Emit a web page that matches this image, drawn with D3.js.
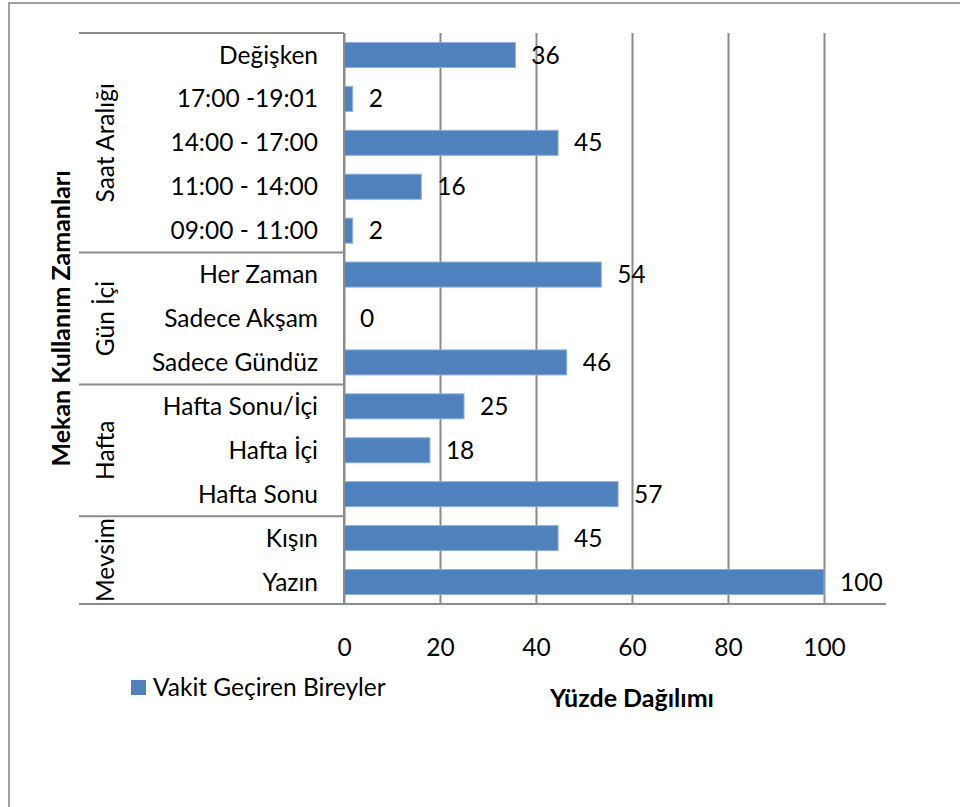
<!DOCTYPE html>
<html>
<head>
<meta charset="utf-8">
<script src="https://cdn.jsdelivr.net/npm/d3@7"></script>
<style>
  body { margin: 0; background: #fff; }
  svg { display: block; font-family: Lato, 'Open Sans', sans-serif; }
</style>
</head>
<body>
<svg id="chart" width="960" height="807"></svg>
<script>
// rows, top to bottom
const CATEGORIES = ['Değişken', '17:00 -19:01', '14:00 - 17:00', '11:00 - 14:00', '09:00 - 11:00',
  'Her Zaman', 'Sadece Akşam', 'Sadece Gündüz',
  'Hafta Sonu/İçi', 'Hafta İçi', 'Hafta Sonu',
  'Kışın', 'Yazın'];
const VALUES = [35.7, 1.8, 44.6, 16.1, 1.8, 53.6, 0, 46.4, 25.0, 17.9, 57.1, 44.6, 100];
const GROUPS = ['Saat Aralığı', 'Gün İçi', 'Hafta', 'Mevsim'];
const GROUP_SIZES = [5, 3, 3, 2];
const X_TICKS = [0, 20, 40, 60, 80, 100];

const SERIES_NAME = 'Vakit Geçiren Bireyler';
const BLUE = '#4f81bd';
const LINE = '#8c8c8c';
const FONT_SIZE = 24.5;
const TITLE_SIZE = 25;

const PLOT = { left: 344, right: 824, top: 33, bottom: 604, labelLeft: 79, axisEnd: 886 };

const svg = d3.select('#chart');

// outer frame
svg.append('rect')
  .attr('x', 9).attr('y', 3)
  .attr('width', 1000).attr('height', 900)
  .attr('fill', 'none')
  .attr('stroke', '#a0a0a0')
  .attr('stroke-width', 2);

const x = d3.scaleLinear()
  .domain([0, 100])
  .range([PLOT.left, PLOT.right]);

const y = d3.scaleBand()
  .domain(CATEGORIES)
  .range([PLOT.top, PLOT.bottom])
  .paddingInner(0.43)
  .paddingOuter(0.215);

// gridlines + tick labels
const xAxis = svg.append('g')
  .attr('transform', `translate(0,${PLOT.bottom})`)
  .call(d3.axisBottom(x)
    .tickValues(X_TICKS)
    .tickSize(-(PLOT.bottom - PLOT.top))
    .tickPadding(35));
xAxis.select('.domain').remove();
xAxis.selectAll('.tick line')
  .attr('stroke', LINE)
  .attr('stroke-width', 2);
xAxis.selectAll('.tick text')
  .attr('font-family', 'Lato, sans-serif')
  .attr('font-size', FONT_SIZE)
  .attr('fill', '#000');

// bars
svg.selectAll('.bar')
  .data(VALUES)
.enter()
  .append('rect')
  .attr('class', 'bar')
  .attr('x', x(0))
  .attr('y', (d, i) => y(CATEGORIES[i]))
  .attr('width', d => x(d) - x(0))
  .attr('height', y.bandwidth())
  .attr('fill', BLUE)
  .attr('stroke', '#8eb0d8')
  .attr('stroke-width', d => (d ? 1 : 0));

// value labels
svg.selectAll('.value')
  .data(VALUES)
.enter()
  .append('text')
  .attr('class', 'value')
  .attr('x', d => x(d) + 16)
  .attr('y', (d, i) => y(CATEGORIES[i]) + y.bandwidth() / 2)
  .attr('dy', '0.35em')
  .attr('font-size', FONT_SIZE)
  .text(d => d3.format('.0f')(d));

// category labels
svg.selectAll('.cat')
  .data(CATEGORIES)
.enter()
  .append('text')
  .attr('class', 'cat')
  .attr('x', 318)
  .attr('y', d => y(d) + y.bandwidth() / 2)
  .attr('dy', '0.35em')
  .attr('text-anchor', 'end')
  .attr('font-size', FONT_SIZE)
  .text(d => d);

// group separators and group labels
const step = y.step();
let start = 0;
const groups = GROUPS.map((name, i) => {
  const g = { name, from: start, to: start + GROUP_SIZES[i] };
  start += GROUP_SIZES[i];
  return g;
});
const rowEdge = k => PLOT.top + k * step;

svg.selectAll('.sep')
  .data([0].concat(groups.slice(0, -1).map(g => g.to)))
.enter()
  .append('line')
  .attr('class', 'sep')
  .attr('x1', PLOT.labelLeft).attr('x2', PLOT.left)
  .attr('y1', d => rowEdge(d)).attr('y2', d => rowEdge(d))
  .attr('stroke', LINE)
  .attr('stroke-width', 2);

svg.selectAll('.grp')
  .data(groups)
.enter()
  .append('text')
  .attr('class', 'grp')
  .attr('transform', d => `translate(105,${(rowEdge(d.from) + rowEdge(d.to)) / 2}) rotate(-90)`)
  .attr('text-anchor', 'middle')
  .attr('dy', '0.35em')
  .attr('font-size', FONT_SIZE)
  .text(d => d.name);

// axis lines
svg.append('line')
  .attr('x1', PLOT.left).attr('x2', PLOT.left)
  .attr('y1', PLOT.top).attr('y2', PLOT.bottom)
  .attr('stroke', LINE).attr('stroke-width', 2);
svg.append('line')
  .attr('x1', PLOT.labelLeft).attr('x2', PLOT.axisEnd)
  .attr('y1', PLOT.bottom).attr('y2', PLOT.bottom)
  .attr('stroke', LINE).attr('stroke-width', 2);

// axis titles
svg.append('text')
  .attr('transform', `translate(61,${(PLOT.top + PLOT.bottom) / 2}) rotate(-90)`)
  .attr('text-anchor', 'middle')
  .attr('dy', '0.35em')
  .attr('font-size', TITLE_SIZE)
  .attr('font-weight', 'bold')
  .text('Mekan Kullanım Zamanları');

svg.append('text')
  .attr('x', 632).attr('y', 698)
  .attr('text-anchor', 'middle')
  .attr('dy', '0.35em')
  .attr('font-size', TITLE_SIZE)
  .attr('font-weight', 'bold')
  .text('Yüzde Dağılımı');

// legend
const legend = svg.append('g').attr('transform', 'translate(131,680)');
legend.append('rect')
  .attr('width', 15).attr('height', 15)
  .attr('fill', BLUE);
legend.append('text')
  .attr('x', 22).attr('y', 7.5)
  .attr('dy', '0.35em')
  .attr('font-size', FONT_SIZE)
  .text(SERIES_NAME);
</script>
</body>
</html>
